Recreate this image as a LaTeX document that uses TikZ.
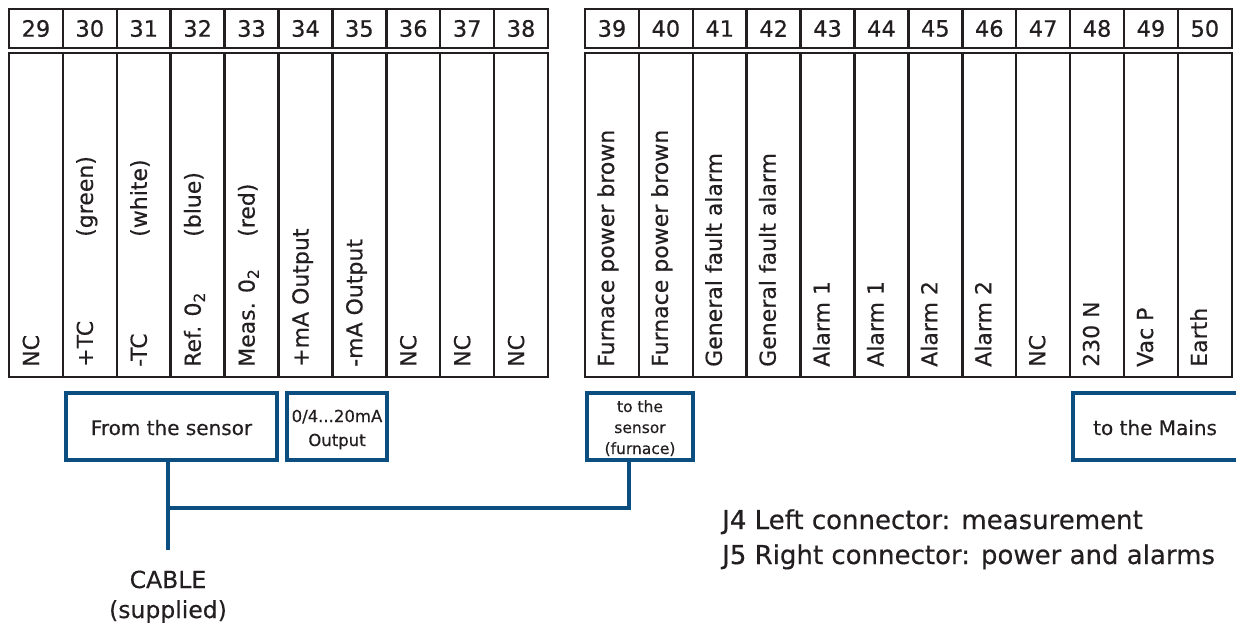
\documentclass[tikz,border=0pt]{standalone}
\usepackage{fontspec}
\setmainfont{DejaVu Sans}[RawFeature={embolden=0.4}]
\definecolor{ink}{HTML}{231F20}
\definecolor{cblue}{HTML}{0C4E80}
\begin{document}
\begin{tikzpicture}[x=1pt,y=-1pt,
  cell/.style={draw=ink, line width=2.5pt, rectangle, inner sep=0pt, minimum width=53.9pt, text=ink},
  numcell/.style={cell, minimum height=39pt, font=\fontsize{22.5}{26}\selectfont},
  bodycell/.style={cell, minimum height=324pt},
  vlbl/.style={rotate=90, anchor=base west, inner sep=0pt, text=ink, font=\fontsize{22}{26}\selectfont},
  bluebox/.style={draw=cblue, line width=4.5pt, inner sep=0pt, outer sep=0pt, minimum height=67pt},
  cable/.style={draw=cblue, line width=4.5pt},
  txt/.style={inner sep=0pt, text=ink, anchor=base}]
\useasboundingbox (0,0) rectangle (1236,628);
\clip (0,0) rectangle (1236,628);
% left connector J4
\foreach \n/\t [count=\i from 0] in {29/NC,30/+TC,31/-TC,32/{Ref. 0\textsubscript{2}},33/{Meas. 0\textsubscript{2}},34/+mA Output,35/-mA Output,36/NC,37/NC,38/NC}{
  \node[numcell] (h\n) at ({9+(\i+0.5)*53.9},28.5) {\n};
  \node[bodycell] (b\n) at ({9+(\i+0.5)*53.9},215) {};
  \node[vlbl] (l\n) at ({9+\i*53.9+30},367) {\t};
}
\foreach \n/\t [count=\i from 1] in {30/(green),31/(white),32/(blue),33/(red)}{
  \node[vlbl] (p\n) at ({9+\i*53.9+30},237) {\t};
}
% right connector J5
\foreach \n/\t [count=\i from 0] in {39/Furnace power brown,40/Furnace power brown,41/General fault alarm,42/General fault alarm,43/Alarm 1,44/Alarm 1,45/Alarm 2,46/Alarm 2,47/NC,48/230 N,49/Vac P,50/Earth}{
  \node[numcell] (h\n) at ({585+(\i+0.5)*53.9},28.5) {\n};
  \node[bodycell] (b\n) at ({585+(\i+0.5)*53.9},215) {};
  \node[vlbl] (l\n) at ({585+\i*53.9+29},367) {\t};
}
% blue boxes
\node[bluebox, minimum width=211pt] (fromsensor) at (171.5,426.5) {};
\node[txt, font=\fontsize{20}{24}\selectfont] (tfromsensor) at (171.5,435) {From the sensor};
\node[bluebox, minimum width=100pt] (output) at (337,426.5) {};
\node[txt, font=\fontsize{16.5}{20}\selectfont] (toutA) at (337,422) {0/4...20mA};
\node[txt, font=\fontsize{16.5}{20}\selectfont] (toutB) at (337,446) {Output};
\node[bluebox, minimum width=106pt] (tosensor) at (640,426.5) {};
\node[txt, font=\fontsize{15.5}{20}\selectfont] (ttsA) at (640,412) {to the};
\node[txt, font=\fontsize{15.5}{20}\selectfont] (ttsB) at (640,433) {sensor};
\node[txt, font=\fontsize{15.5}{20}\selectfont] (ttsC) at (640,454) {(furnace)};
\node[bluebox, minimum width=220pt, anchor=west] (mains) at (1073,426.5) {};
\node[txt, anchor=base west, font=\fontsize{20}{24}\selectfont] (tmains) at (1093,435) {to the Mains};
% cable
\coordinate (cj) at (168,508);
\coordinate (cbot) at (168,550);
\coordinate (cr) at (629,508);
\draw[cable] (fromsensor.south -| cj) -- (cbot);
\draw[cable] (cj) -- (cr) -- (tosensor.south -| cr);
\node[txt, font=\fontsize{23.5}{28}\selectfont] (tcable) at (168,588) {CABLE};
\node[txt, font=\fontsize{23.5}{28}\selectfont] (tsupplied) at (168,618) {(supplied)};
% legend
\node[txt, anchor=base west, font=\fontsize{26}{30}\selectfont] (j4) at (722,529) {J4 Left connector: measurement};
\node[txt, anchor=base west, font=\fontsize{26}{30}\selectfont] (j5) at (722,564) {J5 Right connector: power and alarms};
\end{tikzpicture}
\end{document}
